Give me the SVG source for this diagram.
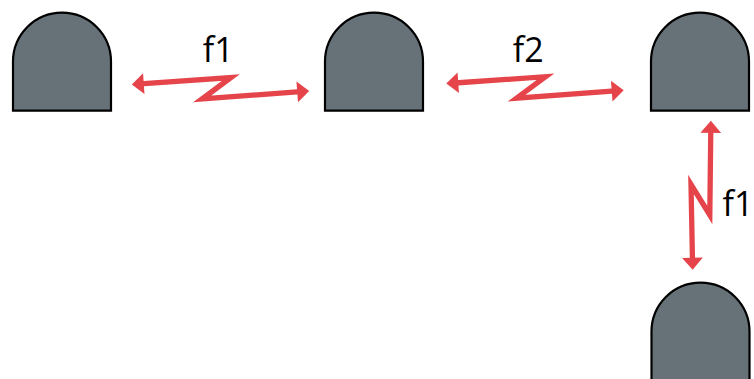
<svg xmlns="http://www.w3.org/2000/svg" width="754" height="379" viewBox="0 0 754 379">
  <style>
    .node { fill: #677278; stroke: #000; stroke-width: 2.2; }
    .link { fill: none; stroke: #E5454A; stroke-width: 5.3; stroke-linejoin: miter; stroke-miterlimit: 10; }
    .label { font-family: "Open Sans", "Liberation Sans", sans-serif; font-size: 34px; fill: #000; }
  </style>
  <defs>
    <marker id="head" markerUnits="userSpaceOnUse" markerWidth="24" markerHeight="24" viewBox="-4 -11 14 22" refX="0" refY="0" orient="auto-start-reverse">
      <path d="M8,0 L-3,-9.5 L-3,9.5 Z" fill="#E5454A"/>
    </marker>
  </defs>

  <!-- stations: arched tops with flat bases -->
  <g id="node-a">
    <path class="node" d="M13,110.7 V61.7 A49,49 0 0 1 111,61.7 V110.7 Z"/>
  </g>
  <g id="node-b">
    <path class="node" d="M325,110.7 V61.7 A49,49 0 0 1 423,61.7 V110.7 Z"/>
  </g>
  <g id="node-c">
    <path class="node" d="M651,110.7 V61.7 A49,49 0 0 1 749,61.7 V110.7 Z"/>
  </g>
  <g id="node-d">
    <path class="node" d="M651.5,392 V331.7 A49,49 0 0 1 749.5,331.7 V392 Z"/>
  </g>

  <!-- radio links, drawn as zigzag double arrows -->
  <g id="connectors">
    <polyline class="link" marker-start="url(#head)" marker-end="url(#head)"
      points="140.5,83.8 231,77.5 202,99 300.5,91.6"/>
    <polyline class="link" marker-start="url(#head)" marker-end="url(#head)"
      transform="translate(314.5,-0.8)"
      points="140.5,83.8 231,77.5 202,99 300.5,91.6"/>
    <polyline class="link" marker-start="url(#head)" marker-end="url(#head)"
      points="710.8,129.5 709.8,215 691,184.5 692.5,261"/>
  </g>

  <g id="labels">
    <text class="label" x="218.3" y="61.7" text-anchor="middle">f1</text>
    <text class="label" x="528.3" y="61.7" text-anchor="middle">f2</text>
    <text class="label" x="722.5" y="216">f1</text>
  </g>
</svg>
